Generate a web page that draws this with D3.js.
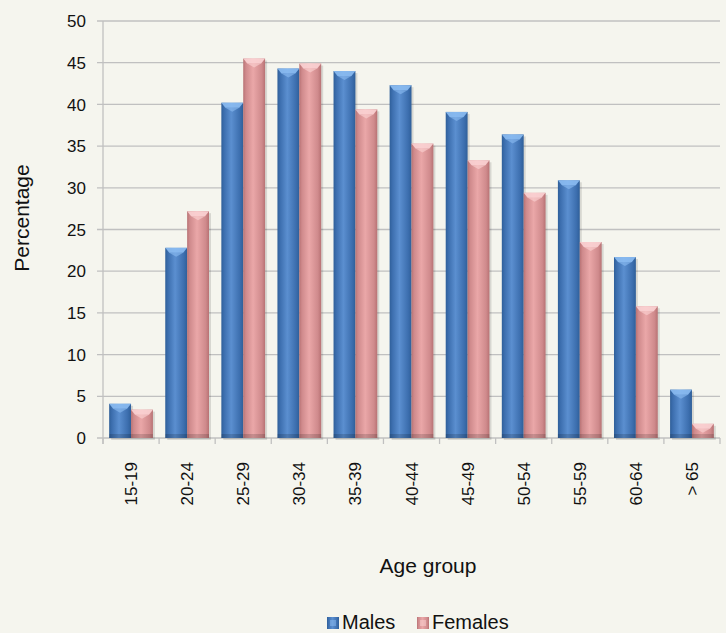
<!DOCTYPE html>
<html><head><meta charset="utf-8">
<script src="https://cdn.jsdelivr.net/npm/d3@7"></script>
<style>
body{margin:0;background:#f5f5ee;}
svg{display:block;font-family:"Liberation Sans",Arial,sans-serif;}
</style></head>
<body>
<svg id="c" width="726" height="633"></svg>
<script>
const categories = ["15-19","20-24","25-29","30-34","35-39","40-44","45-49","50-54","55-59","60-64","> 65"];
const males   = [4.1, 22.8, 40.2, 44.3, 44.0, 42.3, 39.1, 36.4, 30.9, 21.7, 5.8];
const females = [3.4, 27.2, 45.5, 44.9, 39.4, 35.3, 33.3, 29.4, 23.5, 15.8, 1.7];
const seriesNames = ["Males","Females"];
const yTicks = [0,5,10,15,20,25,30,35,40,45,50];

const svg = d3.select("#c");
const W = 726, H = 633;
svg.append("rect").attr("width",W).attr("height",H).attr("fill","#f5f5ee");
const m = {left:103, right:6, top:21, bottom:195};
const x = d3.scaleBand().domain(categories).range([m.left, W - m.right]).paddingInner(0.22).paddingOuter(0.11);
const xb = d3.scaleBand().domain(categories).range([m.left, W - m.right]);
const y = d3.scaleLinear().domain([0,50]).range([H - m.bottom, m.top]);
const xs = d3.scaleBand().domain(seriesNames).range([0, x.bandwidth()]);

const defs = svg.append("defs");
const colors = {Males:["#2f5f99","#5b8fd0","#3c6eae"], Females:["#b87274","#eaa7a8","#cf8a8c"]};
const tops = {Males:"#8cbcf2", Females:"#fbd3d4"};
seriesNames.forEach(s=>{
  const g = defs.append("linearGradient").attr("id","g"+s).attr("x1","0").attr("x2","1").attr("y1","0").attr("y2","0");
  g.append("stop").attr("offset","0").attr("stop-color",colors[s][0]);
  g.append("stop").attr("offset","0.12").attr("stop-color",colors[s][2]);
  g.append("stop").attr("offset","0.45").attr("stop-color",colors[s][1]);
  g.append("stop").attr("offset","0.85").attr("stop-color",colors[s][2]);
  g.append("stop").attr("offset","1").attr("stop-color",colors[s][0]);
});

// gridlines
const grid = svg.append("g");
yTicks.forEach(t=>{
  grid.append("line").attr("x1",m.left-6).attr("x2",W-m.right).attr("y1",y(t)).attr("y2",y(t))
    .attr("stroke","#c0c0c0").attr("stroke-width",1.3);
  svg.append("text").attr("x",m.left-17).attr("y",y(t)).attr("dy","0.36em").attr("text-anchor","end")
    .attr("font-size",17).attr("fill","#111").text(t);
});
// y axis line
svg.append("line").attr("x1",m.left).attr("x2",m.left).attr("y1",y(50)).attr("y2",y(0)+6).attr("stroke","#c0c0c0").attr("stroke-width",1.3);
// x ticks
categories.concat([null]).forEach((c,i)=>{
  const xx = c===null ? W-m.right : xb(c);
  svg.append("line").attr("x1",xx).attr("x2",xx).attr("y1",y(0)).attr("y2",y(0)+6).attr("stroke","#c0c0c0").attr("stroke-width",1.3);
});

// bars
const data = [];
categories.forEach((c,i)=>{ data.push({c, s:"Males", v:males[i]}); data.push({c, s:"Females", v:females[i]}); });
const bars = svg.append("g").selectAll("g").data(data).join("g");
bars.each(function(d){
  const g = d3.select(this);
  const x0 = x(d.c) + xs(d.s), w = xs.bandwidth(), y0 = y(d.v), y1 = y(0);
  g.append("rect").attr("x",x0+2).attr("y",y0+2).attr("width",w).attr("height",y1-y0).attr("fill","rgba(0,0,0,0.12)");
  g.append("rect").attr("x",x0).attr("y",y0).attr("width",w).attr("height",y1-y0).attr("fill","url(#g"+d.s+")");
  const bev = Math.min(5, (y1-y0)/2);
  g.append("path").attr("d",`M${x0},${y0}L${x0+w},${y0}L${x0+w-4},${y0+bev}L${x0+4},${y0+bev}Z`).attr("fill",tops[d.s]).attr("opacity",0.9);
  g.append("path").attr("d",`M${x0+4},${y0+bev}L${x0+w-4},${y0+bev}L${x0+w/2},${y0+bev+4}Z`).attr("fill",tops[d.s]).attr("opacity",0.6);
  g.append("rect").attr("x",x0).attr("y",y1-4).attr("width",w).attr("height",4).attr("fill","rgba(0,0,0,0.15)");
});

// x labels
categories.forEach(c=>{
  const cx = xb(c) + xb.bandwidth()/2;
  svg.append("text").attr("transform",`translate(${cx+6},462) rotate(-90)`).attr("text-anchor","end")
    .attr("font-size",17).attr("fill","#111").text(c);
});
svg.append("text").attr("x",428).attr("y",573).attr("text-anchor","middle").attr("font-size",21).attr("fill","#111").text("Age group");
svg.append("text").attr("transform","translate(29,218) rotate(-90)").attr("text-anchor","middle").attr("font-size",21).attr("fill","#111").text("Percentage");

// legend
const leg = [{s:"Males",x:327},{s:"Females",x:417}];
leg.forEach(l=>{
  svg.append("rect").attr("x",l.x).attr("y",617).attr("width",12).attr("height",12).attr("fill","url(#g"+l.s+")");
  svg.append("rect").attr("x",l.x+3).attr("y",620).attr("width",6).attr("height",6).attr("fill",tops[l.s]).attr("opacity",0.5);
  svg.append("text").attr("x",l.x+15).attr("y",629).attr("font-size",20).attr("fill","#111").text(l.s);
});
</script>
</body></html>
